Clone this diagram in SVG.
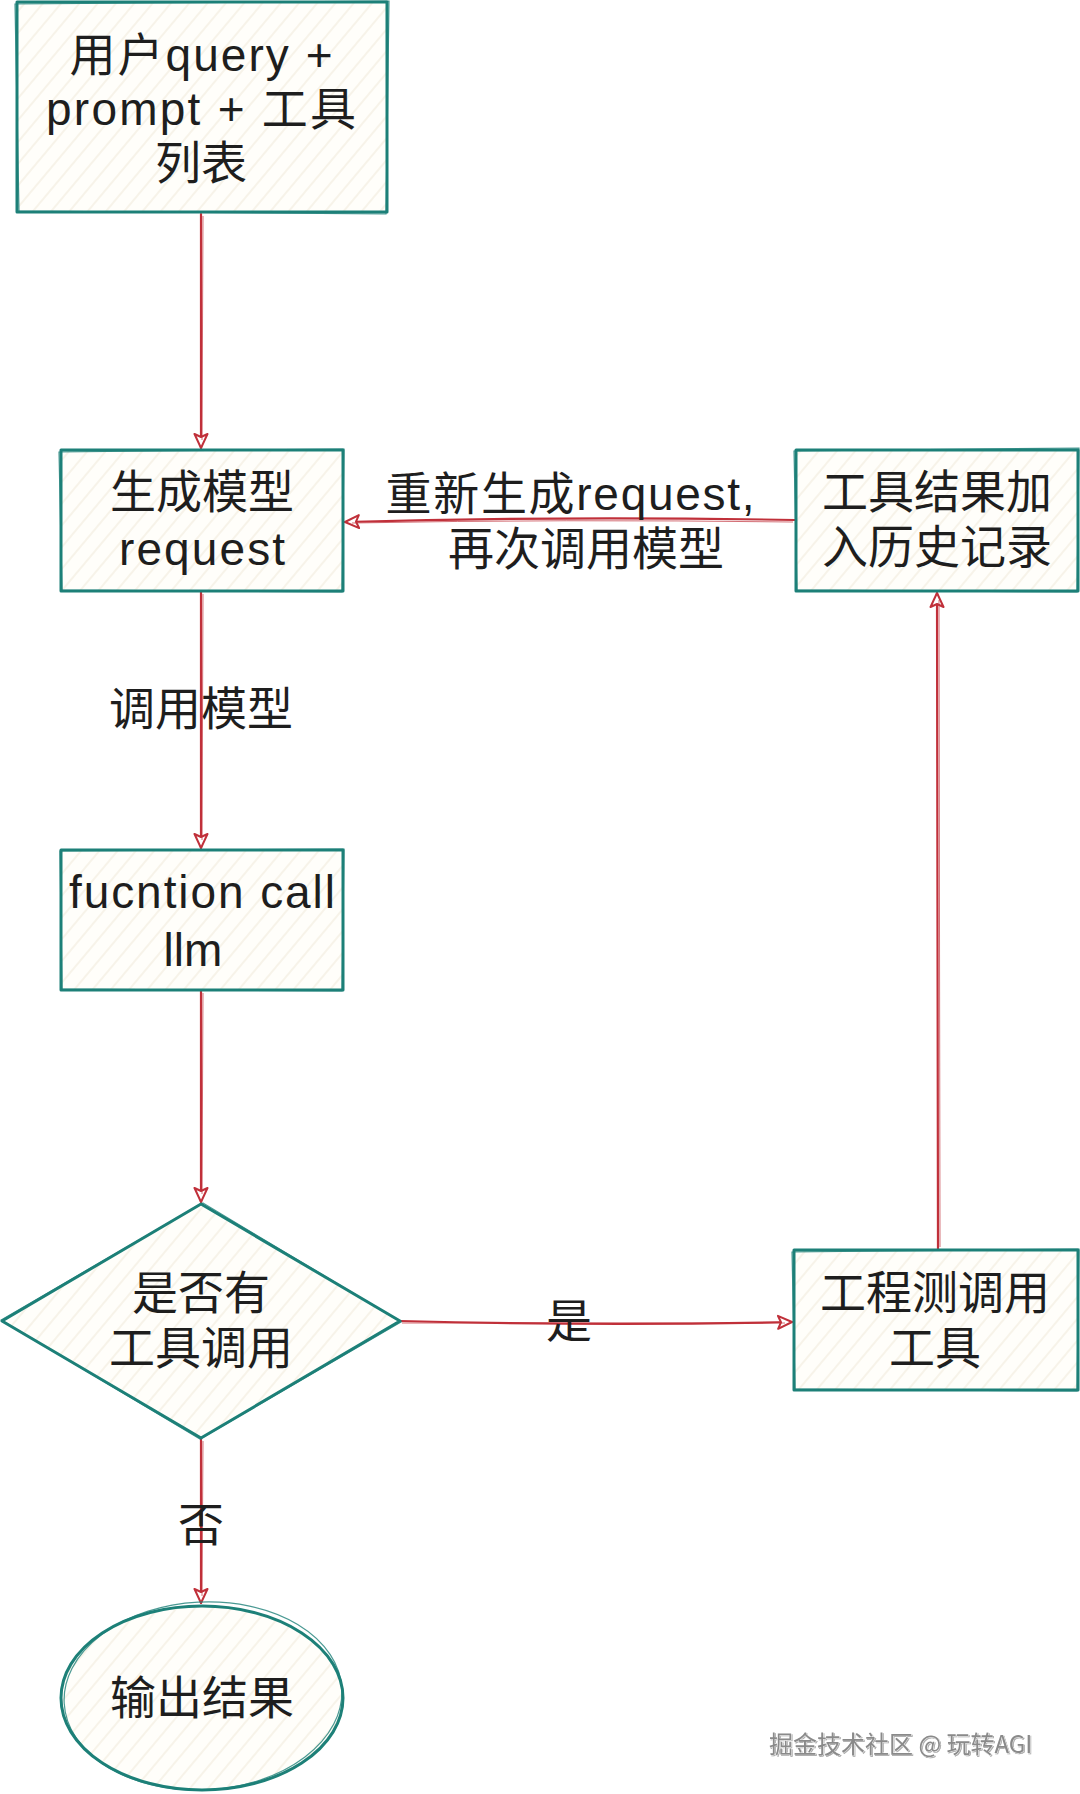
<svg xmlns="http://www.w3.org/2000/svg" width="1080" height="1794" viewBox="0 0 1080 1794">
<style>
.box{fill:url(#hatch);stroke:#1d8078;stroke-width:3;stroke-linejoin:round}
.sk{fill:none;stroke:#1d8078;stroke-width:1.2;opacity:0.8}
.t{font-family:"Liberation Sans","Noto Sans CJK SC",sans-serif;font-size:46px;fill:#1e1e1e;text-anchor:middle;dominant-baseline:central}
.lbl{font-family:"Liberation Sans","Noto Sans CJK SC",sans-serif;font-size:46px;fill:#1e1e1e;text-anchor:middle;dominant-baseline:central}
.e{fill:none;stroke:#c0303a;stroke-width:2.2;stroke-linecap:round}
.e2{fill:none;stroke:#c0303a;stroke-width:1;opacity:0.7}
.wm{font-family:"Noto Sans CJK SC","Liberation Sans",sans-serif;font-size:24px;fill:#8a8a8a;stroke:#ffffff;stroke-width:0.6;paint-order:stroke}
</style>
<defs>
<pattern id="hatch" patternUnits="userSpaceOnUse" width="14" height="14" patternTransform="rotate(-50)">
<rect width="14" height="14" fill="#fffefa"/>
<line x1="0" y1="7" x2="14" y2="7" stroke="#efe9d8" stroke-width="1"/>
</pattern>
<marker id="arr" markerWidth="20" markerHeight="16" refX="15" refY="8" orient="auto" markerUnits="userSpaceOnUse">
<path d="M1,1.5 L15,8 L1,14.5 L4,8 Z" fill="#ffffff" stroke="#c0303a" stroke-width="2" stroke-linejoin="round"/>
</marker>
<filter id="wmShadow" x="-5%" y="-20%" width="110%" height="140%">
<feDropShadow dx="1" dy="1" stdDeviation="0.6" flood-color="#555555" flood-opacity="0.5"/>
</filter>
</defs>
<rect width="1080" height="1794" fill="#ffffff"/>

<g id="connectors">
<path class="e" d="M201,214 L201,448" marker-end="url(#arr)"/>
<path class="e2" d="M203,216 L202,440"/>
<path class="e" d="M201,592 L201,848" marker-end="url(#arr)"/>
<path class="e2" d="M203,594 L202,840"/>
<path class="e" d="M201,991 L201,1202" marker-end="url(#arr)"/>
<path class="e2" d="M203,993 L202,1194"/>
<path class="e" d="M201,1439 L201,1603" marker-end="url(#arr)"/>
<path class="e2" d="M203,1441 L202,1596"/>
<path class="e" d="M400,1321 Q600,1326 792,1322" marker-end="url(#arr)"/>
<path class="e2" d="M402,1323 Q600,1323 785,1323"/>
<path class="e" d="M938,1249 L937,593" marker-end="url(#arr)"/>
<path class="e2" d="M940,1247 L939,600"/>
<path class="e" d="M795,520 Q560,516 345,522" marker-end="url(#arr)"/>
<path class="e2" d="M793,522 Q560,519 352,523"/>
<text class="lbl" x="201" y="709">调用模型</text>
<text class="lbl" x="570" y="494" textLength="369" lengthAdjust="spacing">重新生成request,</text>
<text class="lbl" x="586" y="549">再次调用模型</text>
<text class="lbl" x="569" y="1321">是</text>
<text class="lbl" x="201" y="1525">否</text>
</g>

<g id="n1">
<rect class="box" x="17" y="2" width="370" height="210"/>
<path class="sk" d="M15,4 L389,1 L386,214 L19,211 Z"/>
<text class="t" x="201" y="55" textLength="263" lengthAdjust="spacing">用户query +</text>
<text class="t" x="201" y="109" textLength="310" lengthAdjust="spacing">prompt + 工具</text>
<text class="t" x="201" y="163">列表</text>
</g>

<g id="n2">
<rect class="box" x="61" y="450" width="282" height="141"/>
<path class="sk" d="M59,452 L344,449 L342,592 L62,590 Z"/>
<text class="t" x="202" y="492">生成模型</text>
<text class="t" x="202" y="549" textLength="166" lengthAdjust="spacing">request</text>
</g>

<g id="n3">
<rect class="box" x="796" y="450" width="282" height="141"/>
<path class="sk" d="M794,451 L1079,448 L1077,592 L797,590 Z"/>
<text class="t" x="937" y="492">工具结果加</text>
<text class="t" x="937" y="547">入历史记录</text>
</g>

<g id="n4">
<rect class="box" x="61" y="850" width="282" height="140"/>
<path class="sk" d="M60,851 L344,849 L342,991 L62,989 Z"/>
<text class="t" x="202" y="892" textLength="266" lengthAdjust="spacing">fucntion call</text>
<text class="t" x="193" y="950">llm</text>
</g>

<g id="n5">
<path class="box" d="M201,1204 L400,1321 L201,1438 L2,1321 Z"/>
<path class="sk" d="M203,1203 L401,1322 L200,1439 L1,1320 Z"/>
<text class="t" x="201" y="1293">是否有</text>
<text class="t" x="201" y="1348">工具调用</text>
</g>

<g id="n6">
<rect class="box" x="794" y="1250" width="284" height="140"/>
<path class="sk" d="M792,1252 L1079,1249 L1077,1391 L795,1389 Z"/>
<text class="t" x="935" y="1293">工程测调用</text>
<text class="t" x="935" y="1348">工具</text>
</g>

<g id="n7">
<ellipse class="box" cx="202" cy="1698" rx="141" ry="92"/>
<ellipse class="sk" cx="203" cy="1696" rx="139" ry="94" transform="rotate(-3 203 1696)"/>
<text class="t" x="202" y="1698">输出结果</text>
</g>

<text class="wm" x="769" y="1753" filter="url(#wmShadow)">掘金技术社区 @ 玩转AGI</text>
</svg>
